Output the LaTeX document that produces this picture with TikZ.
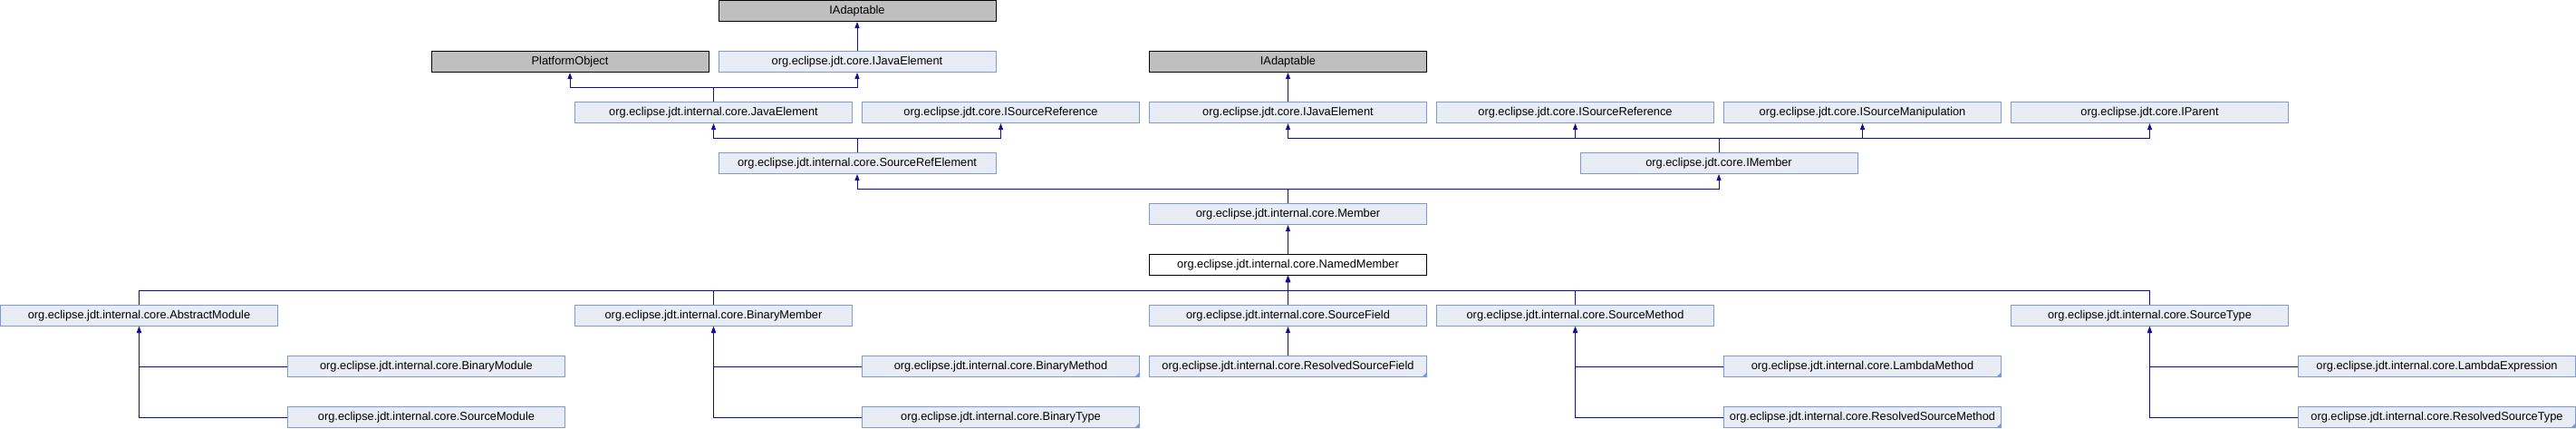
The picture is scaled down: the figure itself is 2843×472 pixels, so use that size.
\documentclass[tikz,border=0pt]{standalone}
\usepackage{fontspec}
\setmainfont{Liberation Sans}
\usetikzlibrary{arrows.meta}
\definecolor{boxfill}{HTML}{E8ECF5}
\definecolor{boxline}{HTML}{7F98CF}
\definecolor{extfill}{HTML}{BFBFBF}
\definecolor{edgeblue}{HTML}{10108F}
\tikzset{
	cls/.style={draw=boxline, fill=boxfill, line width=1pt, minimum width=306pt, minimum height=23pt, inner sep=0pt, font=\fontsize{12.8}{14}\selectfont},
	ext/.style={cls, draw=black, fill=extfill},
	cur/.style={cls, draw=black, fill=white},
	inh/.style={draw=edgeblue, line width=1pt, -{Triangle[length=7pt, width=5pt]}}
}
\begin{document}
\begin{tikzpicture}[x=1pt, y=-1pt]
		\useasboundingbox (0,0) rectangle (2843,472);
		
		% external classes
		\foreach \n/\k/\r/\t in {IAdaptA/5/0/IAdaptable, PlatformObject/3/1/PlatformObject, IAdaptB/8/1/IAdaptable}
		{
			\node[ext] (\n) at (\k*158.5 + 153.5, \r*56 + 12) {\t};
		}
		
		% documented classes
		\foreach \n/\k/\r/\t in {IJavaA/5/1/org.eclipse.jdt.core.IJavaElement,
			JavaElement/4/2/org.eclipse.jdt.internal.core.JavaElement,
			ISrcRefA/6/2/org.eclipse.jdt.core.ISourceReference,
			IJavaB/8/2/org.eclipse.jdt.core.IJavaElement,
			ISrcRefB/10/2/org.eclipse.jdt.core.ISourceReference,
			ISrcManip/12/2/org.eclipse.jdt.core.ISourceManipulation,
			IParent/14/2/org.eclipse.jdt.core.IParent,
			SrcRefElement/5/3/org.eclipse.jdt.internal.core.SourceRefElement,
			IMember/11/3/org.eclipse.jdt.core.IMember,
			Member/8/4/org.eclipse.jdt.internal.core.Member,
			AbsModule/0/6/org.eclipse.jdt.internal.core.AbstractModule,
			BinMember/4/6/org.eclipse.jdt.internal.core.BinaryMember,
			SrcField/8/6/org.eclipse.jdt.internal.core.SourceField,
			SrcMethod/10/6/org.eclipse.jdt.internal.core.SourceMethod,
			SrcType/14/6/org.eclipse.jdt.internal.core.SourceType,
			BinModule/2/7/org.eclipse.jdt.internal.core.BinaryModule,
			BinMethod/6/7/org.eclipse.jdt.internal.core.BinaryMethod,
			ResSrcField/8/7/org.eclipse.jdt.internal.core.ResolvedSourceField,
			LamMethod/12/7/org.eclipse.jdt.internal.core.LambdaMethod,
			LamExpr/16/7/org.eclipse.jdt.internal.core.LambdaExpression,
			SrcModule/2/8/org.eclipse.jdt.internal.core.SourceModule,
			BinType/6/8/org.eclipse.jdt.internal.core.BinaryType,
			ResSrcMethod/12/8/org.eclipse.jdt.internal.core.ResolvedSourceMethod,
			ResSrcType/16/8/org.eclipse.jdt.internal.core.ResolvedSourceType}
		{
			\node[cls] (\n) at (\k*158.5 + 153.5, \r*56 + 12) {\t};
		}
		\node[cur] (NamedMember) at (8*158.5 + 153.5, 5*56 + 12) {org.eclipse.jdt.internal.core.NamedMember};
		
		% truncated marks
		\foreach \n in {BinMethod, BinType, ResSrcField, LamMethod, ResSrcMethod, ResSrcType}
		{
			\fill[boxline] (\n.south east) -- ++(-6,0) -- ++(6,-6) -- cycle;
		}
		
		% inheritance
		\draw[inh] (IJavaA.north) -- (IAdaptA.south);
		\draw[inh] (IJavaB.north) -- (IAdaptB.south);
		\foreach \c/\p in {JavaElement/PlatformObject, JavaElement/IJavaA,
			SrcRefElement/JavaElement, SrcRefElement/ISrcRefA,
			IMember/IJavaB, IMember/ISrcRefB, IMember/ISrcManip, IMember/IParent,
			Member/SrcRefElement, Member/IMember,
			AbsModule/NamedMember, BinMember/NamedMember, SrcMethod/NamedMember, SrcType/NamedMember}
		{
			\draw[inh] (\c.north) -- ++(0,-15.5) -| (\p.south);
		}
		\draw[inh] (NamedMember.north) -- (Member.south);
		\draw[inh] (SrcField.north) -- (NamedMember.south);
		\draw[inh] (ResSrcField.north) -- (SrcField.south);
		\foreach \c/\p in {BinModule/AbsModule, SrcModule/AbsModule,
			BinMethod/BinMember, BinType/BinMember,
			LamMethod/SrcMethod, ResSrcMethod/SrcMethod,
			LamExpr/SrcType, ResSrcType/SrcType}
		{
			\draw[inh] (\c.west) -| (\p.south);
		}
		
	\end{tikzpicture}
\end{document}
